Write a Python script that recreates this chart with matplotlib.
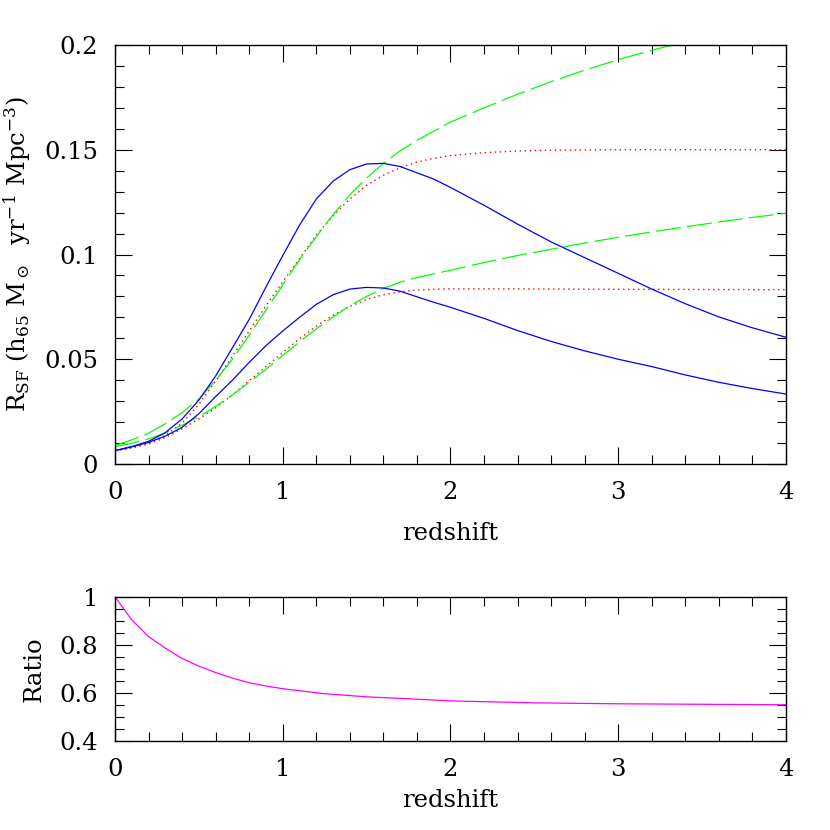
import matplotlib
matplotlib.use("Agg")
import matplotlib.pyplot as plt
from matplotlib.ticker import FixedLocator, MultipleLocator, FixedFormatter

plt.rcParams['font.family'] = ['DejaVu Serif']
plt.rcParams['mathtext.fontset'] = 'dejavuserif'

# ---- data ----
z_blue = [0, 0.1, 0.2, 0.3, 0.4, 0.5, 0.6, 0.7, 0.8, 0.9, 1.0, 1.1, 1.2, 1.3, 1.4, 1.5,
          1.6, 1.7, 1.8, 1.9, 2.0, 2.2, 2.4, 2.6, 2.8, 3.0, 3.2, 3.4, 3.6, 3.8, 4.0]
blue_high = [0.0064, 0.0083, 0.0108, 0.0150, 0.0215, 0.0305, 0.042, 0.0555, 0.069, 0.0845,
             0.0995, 0.114, 0.1265, 0.135, 0.1405, 0.1432, 0.1435, 0.142, 0.139, 0.136,
             0.132, 0.1235, 0.1145, 0.106, 0.0985, 0.091, 0.0835, 0.0765, 0.0702, 0.065, 0.0605]
blue_low = [0.0064, 0.0082, 0.0103, 0.0133, 0.0175, 0.024, 0.0322, 0.040, 0.0485, 0.0565,
            0.0635, 0.0700, 0.0762, 0.0808, 0.0835, 0.0843, 0.084, 0.0825, 0.0798, 0.0772,
            0.0748, 0.0695, 0.0637, 0.0585, 0.054, 0.050, 0.0465, 0.0425, 0.039, 0.036, 0.0334]

z_red = [0, 0.1, 0.2, 0.3, 0.4, 0.5, 0.6, 0.7, 0.8, 0.9, 1.0, 1.1, 1.2, 1.3, 1.4, 1.5,
         1.6, 1.7, 1.8, 1.9, 2.0, 2.2, 2.4, 2.6, 3.0, 3.5, 4.0]
red_high = [0.0064, 0.0078, 0.0100, 0.0137, 0.0195, 0.0285, 0.0395, 0.0515, 0.0635, 0.0755,
            0.087, 0.098, 0.1092, 0.1185, 0.1265, 0.1330, 0.1378, 0.1415, 0.1441, 0.1459,
            0.1472, 0.1486, 0.1494, 0.1498, 0.150, 0.150, 0.150]
red_low = [0.0064, 0.0076, 0.0095, 0.0126, 0.0168, 0.0215, 0.0268, 0.0330, 0.0398, 0.0465,
           0.0532, 0.0598, 0.0658, 0.0710, 0.0752, 0.0785, 0.0808, 0.0822, 0.0830, 0.0834,
           0.0836, 0.0836, 0.0836, 0.0835, 0.0834, 0.0833, 0.0832]

z_green_high = [0, 0.1, 0.2, 0.3, 0.4, 0.5, 0.6, 0.7, 0.8, 0.9, 1.0, 1.1, 1.2, 1.3, 1.4,
                1.5, 1.6, 1.7, 1.8, 2.0, 2.2, 2.4, 2.6, 2.8, 3.0, 3.2, 3.4]
green_high = [0.0088, 0.0115, 0.0147, 0.0192, 0.0245, 0.031, 0.040, 0.050, 0.0615, 0.0735,
              0.0855, 0.0975, 0.1085, 0.119, 0.1285, 0.1365, 0.1435, 0.1495, 0.1545, 0.1632,
              0.170, 0.1765, 0.1825, 0.188, 0.193, 0.1975, 0.2015]
z_green_low = [0, 0.1, 0.2, 0.3, 0.4, 0.5, 0.6, 0.7, 0.8, 0.9, 1.0, 1.1, 1.2, 1.3, 1.4,
               1.5, 1.6, 1.7, 1.8, 2.0, 2.2, 2.4, 2.6, 2.8, 3.0, 3.2, 3.4, 3.6, 3.8, 4.0]
green_low = [0.0083, 0.0098, 0.0120, 0.0148, 0.0185, 0.0226, 0.0275, 0.0330, 0.0390, 0.0452,
             0.0518, 0.0583, 0.0645, 0.0702, 0.0755, 0.0800, 0.0838, 0.0868, 0.0890, 0.0925,
             0.0962, 0.0995, 0.1025, 0.1055, 0.1082, 0.1108, 0.1132, 0.1155, 0.1177, 0.1197]

z_ratio = [0, 0.1, 0.2, 0.3, 0.4, 0.5, 0.6, 0.7, 0.8, 0.9, 1.0, 1.25, 1.5, 1.75, 2.0,
           2.5, 3.0, 3.5, 4.0]
ratio = [1.0, 0.905, 0.835, 0.787, 0.744, 0.712, 0.685, 0.662, 0.643, 0.629, 0.618, 0.597,
         0.584, 0.576, 0.567, 0.559, 0.555, 0.553, 0.551]

x_ticks = [0, 1, 2, 3, 4]
x_ticklabels = ['0', '1', '2', '3', '4']
y_top_ticks = [0, 0.05, 0.1, 0.15, 0.2]
y_top_ticklabels = ['0', '0.05', '0.1', '0.15', '0.2']
y_bot_ticks = [0.4, 0.6, 0.8, 1.0]
y_bot_ticklabels = ['0.4', '0.6', '0.8', '1']

# ---- figure ----
fig = plt.figure(figsize=(8.3, 8.3), dpi=100)
ax1 = fig.add_axes([0.13855, 0.44096, 0.80843, 0.50482])
ax2 = fig.add_axes([0.13855, 0.10723, 0.80843, 0.17349])

lw = 0.9
ax1.plot(z_red, red_high, color='#ff0000', lw=1.0, linestyle=(0, (1.0, 2.6)))
ax1.plot(z_red, red_low, color='#ff0000', lw=1.0, linestyle=(0, (1.0, 2.6)))
ax1.plot(z_green_high, green_high, color='#00ff00', lw=lw, linestyle=(0, (20, 5)))
ax1.plot(z_green_low, green_low, color='#00ff00', lw=lw, linestyle=(0, (20, 5)))
ax1.plot(z_blue, blue_high, color='#0000ff', lw=lw)
ax1.plot(z_blue, blue_low, color='#0000ff', lw=lw)

ax2.plot(z_ratio, ratio, color='#ff00ff', lw=lw)

fs = 17.5
for ax in (ax1, ax2):
    ax.set_xlim(0, 4)
    ax.xaxis.set_major_locator(FixedLocator(x_ticks))
    ax.xaxis.set_major_formatter(FixedFormatter(x_ticklabels))
    ax.xaxis.set_minor_locator(MultipleLocator(0.2))
    ax.tick_params(which='both', direction='in', top=True, right=True,
                   width=0.8, labelsize=fs, pad=12)
    ax.tick_params(which='major', length=12.5)
    ax.tick_params(which='minor', length=6.3)
    for s in ax.spines.values():
        s.set_linewidth(1.0)

ax1.set_ylim(0, 0.2)
ax1.yaxis.set_major_locator(FixedLocator(y_top_ticks))
ax1.yaxis.set_major_formatter(FixedFormatter(y_top_ticklabels))
ax1.yaxis.set_minor_locator(MultipleLocator(0.01))

ax2.set_ylim(0.4, 1.0)
ax2.yaxis.set_major_locator(FixedLocator(y_bot_ticks))
ax2.yaxis.set_major_formatter(FixedFormatter(y_bot_ticklabels))
ax2.yaxis.set_minor_locator(MultipleLocator(0.05))

ax1.set_xlabel('redshift', fontsize=fs)
ax1.xaxis.set_label_coords(0.5, -0.138)
ax1.set_ylabel(r'R$_{\rm SF}$ (h$_{65}$ M$_\odot$  yr$^{-1}$ Mpc$^{-3}$)', fontsize=fs)
ax1.yaxis.set_label_coords(-0.122, 0.5)

ax2.set_xlabel('redshift', fontsize=fs)
ax2.xaxis.set_label_coords(0.5, -0.333)
ax2.set_ylabel('Ratio', fontsize=fs)
ax2.yaxis.set_label_coords(-0.104, 0.5)

fig.savefig('out.png', dpi=100)
